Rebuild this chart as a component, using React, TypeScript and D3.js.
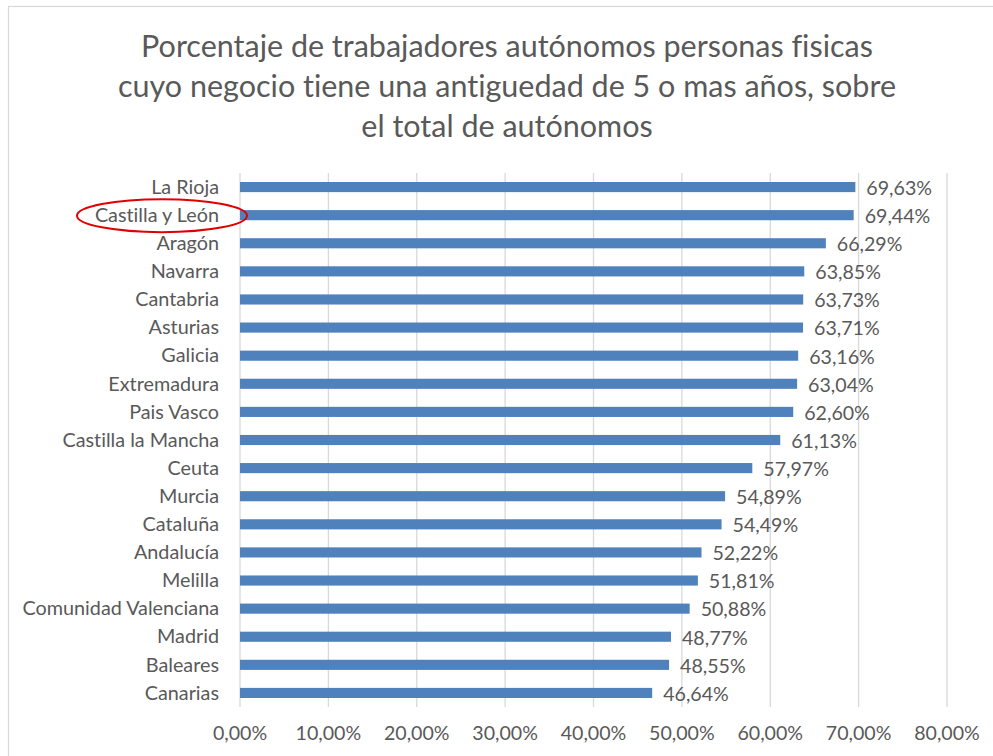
import React from "react";
import * as d3 from "d3";

const categories = [
  "La Rioja", "Castilla y León", "Aragón", "Navarra", "Cantabria", "Asturias",
  "Galicia", "Extremadura", "Pais Vasco", "Castilla la Mancha", "Ceuta", "Murcia",
  "Cataluña", "Andalucía", "Melilla", "Comunidad Valenciana", "Madrid", "Baleares", "Canarias",
];
const values = [
  69.63, 69.44, 66.29, 63.85, 63.73, 63.71, 63.16, 63.04, 62.6, 61.13, 57.97, 54.89,
  54.49, 52.22, 51.81, 50.88, 48.77, 48.55, 46.64,
];
const xTicks = [0, 10, 20, 30, 40, 50, 60, 70, 80];
const titleLines = [
  "Porcentaje de trabajadores autónomos personas fisicas",
  "cuyo negocio tiene una antiguedad de 5 o mas años, sobre",
  "el total de autónomos",
];
const highlighted = "Castilla y León";

const W = 993;
const H = 756;
const FONT = "Lato, 'Open Sans', sans-serif";
const TEXT = "#595959";

const fmt = (v: number) => v.toFixed(2).replace(".", ",") + "%";

export default function App() {
  const x = d3.scaleLinear().domain([0, 80]).range([240, 947]);
  const y = d3.scaleBand<string>().domain(categories).range([173, 707]).paddingInner(0.64).paddingOuter(0.32);
  const hi = categories.indexOf(highlighted);
  const hiY = (y(categories[hi]) ?? 0) + y.bandwidth() / 2;

  return (
    <svg width={W} height={H} style={{ position: "absolute", left: 0, top: 0, fontVariantLigatures: "none" }} fontFamily={FONT}>
      <rect x={0} y={0} width={W} height={H} fill="#fff" />
      <rect x={8.5} y={6.5} width={1000} height={800} fill="none" stroke="#d9d9d9" strokeWidth={1.2} />
      <g fill={TEXT} fontSize={30.5} textAnchor="middle">
        {titleLines.map((t, i) => (
          <text key={i} x={507} y={57 + i * 40}>{t}</text>
        ))}
      </g>
      <g stroke="#d9d9d9" strokeWidth={1.3}>
        {xTicks.map((t) => (
          <line key={t} x1={x(t)} x2={x(t)} y1={173} y2={707} />
        ))}
      </g>
      <g fill="#4f81bd">
        {categories.map((c, i) => (
          <rect key={c} x={x(0)} y={y(c)} width={x(values[i]) - x(0)} height={y.bandwidth()} />
        ))}
      </g>
      <g fill={TEXT} fontSize={19.8} textAnchor="end">
        {categories.map((c) => (
          <text key={c} x={219} y={(y(c) ?? 0) + y.bandwidth() / 2} dy="0.34em">{c}</text>
        ))}
      </g>
      <g fill={TEXT} fontSize={19.6}>
        {categories.map((c, i) => (
          <text key={c} x={x(values[i]) + 11} y={(y(c) ?? 0) + y.bandwidth() / 2} dy="0.4em">{fmt(values[i])}</text>
        ))}
      </g>
      <g fill={TEXT} fontSize={19.6} textAnchor="middle">
        {xTicks.map((t) => (
          <text key={t} x={x(t)} y={740}>{fmt(t)}</text>
        ))}
      </g>
      <ellipse cx={162} cy={hiY + 0.5} rx={85} ry={16.5} fill="none" stroke="#e00000" strokeWidth={2} />
    </svg>
  );
}
